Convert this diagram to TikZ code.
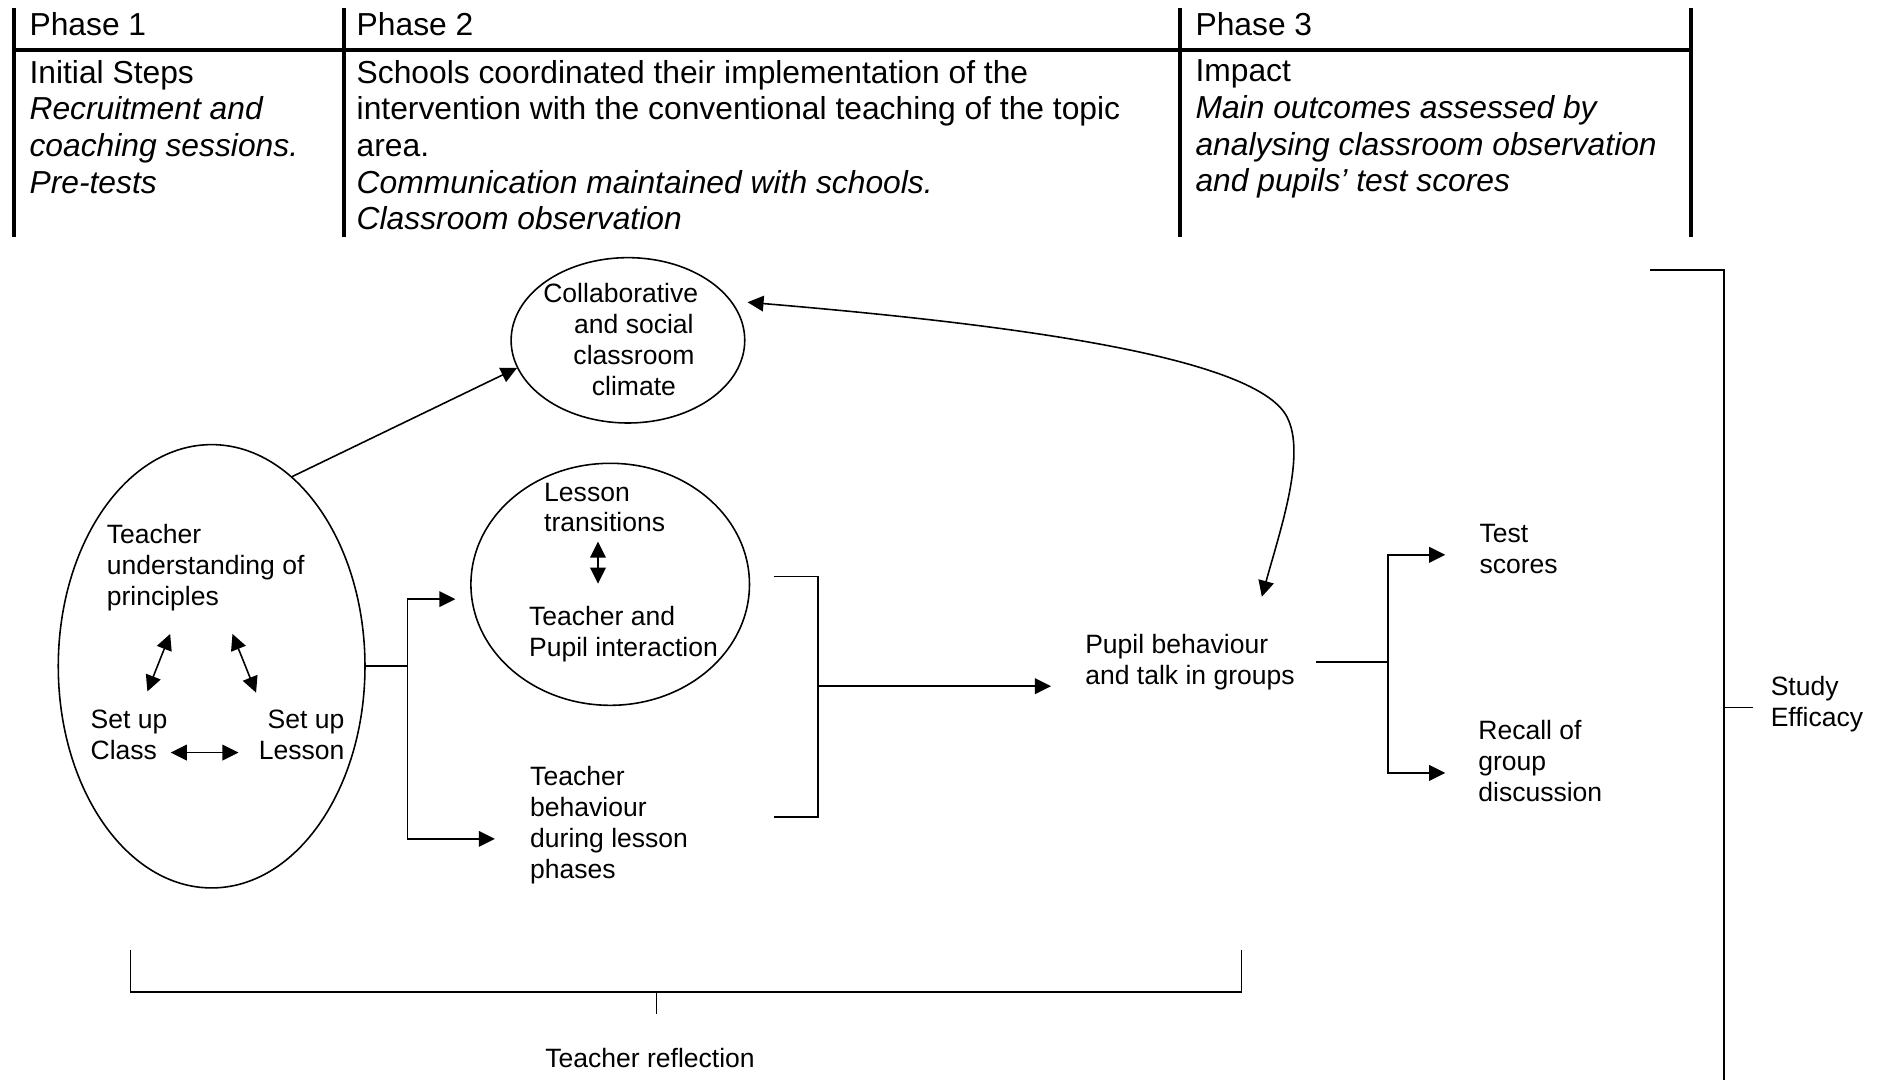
\documentclass[tikz,border=0pt]{standalone}
\usepackage{fontspec}
\setmainfont{Liberation Sans}
\usetikzlibrary{arrows.meta,shapes.geometric}
\newcommand{\hdrfont}{\fontsize{15.1pt}{17.4pt}\selectfont}
\newcommand{\diagfont}{\fontsize{12.6pt}{14.7pt}\selectfont}
\tikzset{
  hdr/.style={inner sep=0pt, align=left, font=\hdrfont},
  txt/.style={inner sep=0pt, align=left, font=\diagfont},
  oval/.style={ellipse, draw, inner sep=0pt},
  bar/.style={line width=1.9pt}
}
\begin{document}
\begin{tikzpicture}[x=0.02cm, y=-0.02cm, line width=0.75pt,
    >={Triangle[length=7.6pt,width=7.4pt]}]
  \useasboundingbox (0,0) rectangle (1568,901);

  % phase table
  \foreach \x in {12,287,985,1411}
    \draw[bar] (\x,7) -- (\x,198);
  \draw[bar] (12,42) -- (1411,42);
  \begin{scope}[every node/.style={hdr}]
    \node[anchor=base west] (ph1) at (24,30) {Phase 1};
    \node[anchor=base west] (ph2) at (297,30) {Phase 2};
    \node[anchor=base west] (ph3) at (997,30) {Phase 3};
    \node[anchor=north west] (init) at (24,49.5) {Initial Steps\\\textit{Recruitment and}\\\textit{coaching sessions.}\\\textit{Pre-tests}};
    \node[anchor=north west] (coord) at (297,49.5) {Schools coordinated their implementation of the\\intervention with the conventional teaching of the topic\\area.\\\textit{Communication maintained with schools.}\\\textit{Classroom observation}};
    \node[anchor=north west] (impact) at (997,49.5) {Impact\\\textit{Main outcomes assessed by}\\\textit{analysing classroom observation}\\\textit{and pupils’ test scores}};
  \end{scope}

  % ovals
  \node[oval, minimum width=5.12cm, minimum height=7.4cm] (teach) at (176.6,556) {};
  \node[oval, minimum width=3.9cm, minimum height=2.76cm] (coll) at (524,284) {};
  \node[oval, minimum width=4.65cm, minimum height=4.04cm] (lesson) at (509.2,487.6) {};

  \begin{scope}[every node/.style={txt}]
    \node[align=center] (collt) at (529,283) {Collaborative\hspace*{0.44cm}\\and social\\classroom\\climate};
    \node[anchor=north west] (tup) at (88.5,437) {Teacher\\understanding of\\principles};
    \node[anchor=north west] (cls) at (75,591.5) {Set up\\Class};
    \node[anchor=north east, align=right] (lsn) at (288,591.5) {Set up\\Lesson};
    \node[anchor=north west] (lt) at (453.5,402.2) {Lesson\\transitions};
    \node[anchor=north west] (tpi) at (440.9,505.2) {Teacher and\\Pupil interaction};
    \node[anchor=north west] (behav) at (441.8,638.5) {Teacher\\behaviour\\during lesson\\phases};
    \node[anchor=north west] (pupil) at (905,528.5) {Pupil behaviour\\and talk in groups};
    \node[anchor=north west] (test) at (1234,437.1) {Test\\scores};
    \node[anchor=north west] (recall) at (1233,600.5) {Recall of\\group\\discussion};
    \node[anchor=north west] (study) at (1477,563.5) {Study\\Efficacy};
    \node (refl) at (542.5,883) {Teacher reflection};
  \end{scope}

  \coordinate (a1) at (142,529);
  \coordinate (a2) at (123,577);
  \coordinate (a3) at (194,529);
  \coordinate (a4) at (213.7,578);
  \coordinate (a5) at (142.5,628);
  \coordinate (a6) at (199,628);
  \coordinate (b1) at (499,452);
  \coordinate (b2) at (499,487);
  \draw[<->] (a1) -- (a2);
  \draw[<->] (a3) -- (a4);
  \draw[<->] (a5) -- (a6);
  \draw[<->] (b1) -- (b2);

  \coordinate (fk1) at (340,556);
  \coordinate (inL) at (380,500);
  \coordinate (inB) at (413,700);
  \draw (teach.east) -- (fk1);
  \draw[->] (fk1) |- (inL);
  \draw[->] (fk1) |- (inB);
  \draw[->] (teach.67) -- (coll.194);

  \coordinate (brT) at (645.5,481);
  \coordinate (brB) at (645.5,682);
  \coordinate (brM) at (682.5,572.6);
  \coordinate (inP) at (877,572.6);
  \draw (brT) -- ++(37,0) |- (brB);
  \draw[->] (brM) -- (inP);

  \coordinate (pupilIn) at (1053,498);
  \draw[<->] ([xshift=0.25cm]coll.20) .. controls (823,269) and (1047,295) .. (1074,348)
    .. controls (1090,379) and (1069,440) .. (pupilIn);

  \coordinate (inT) at (1206,463);
  \coordinate (inR) at (1206,645);
  \draw ([xshift=0.34cm]pupil.east) -- ++(60,0) coordinate (fk3);
  \draw[->] (fk3) |- (inT);
  \draw[->] (fk3) |- (inR);

  \coordinate (stT) at (1376.5,225.4);
  \coordinate (stM) at (1438.5,590.3);
  \draw (stT) -- ++(62,0) -- ++(0,676);
  \draw (stM) -- ++(24.5,0);

  \coordinate (rfL) at (109,793);
  \coordinate (rfR) at (1036,793);
  \coordinate (rfM) at (548,828);
  \draw (rfL) -- ++(0,35) -| (rfR);
  \draw (rfM) -- ++(0,18);
\end{tikzpicture}
\end{document}
